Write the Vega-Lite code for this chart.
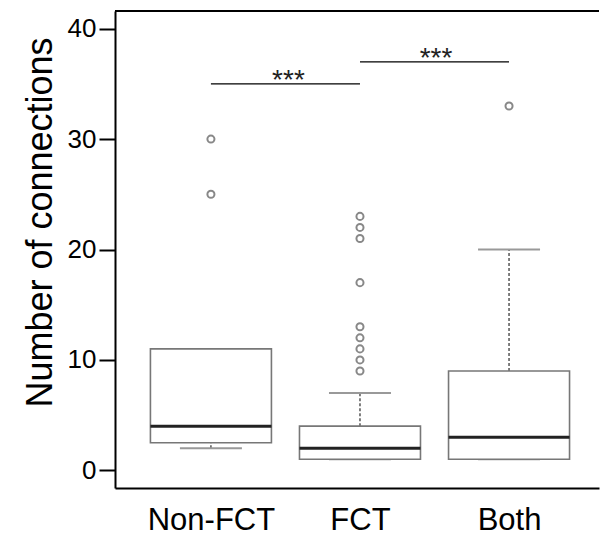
{
  "$schema": "https://vega.github.io/schema/vega-lite/v6.json",
  "autosize": "none",
  "padding": {"left": 115, "top": 11, "right": 1, "bottom": 62},
  "width": 484,
  "height": 477,
  "background": "white",
  "config": {
    "view": {"stroke": null},
    "font": "Liberation Sans",
    "axis": {"grid": false, "domainColor": "black", "domainWidth": 2, "tickColor": "black", "tickWidth": 2, "labelColor": "black", "titleColor": "black", "labelFont": "Liberation Sans", "titleFont": "Liberation Sans"}
  },
  "datasets": {
    "boxes": [
      {"group": "Non-FCT", "pos": 1, "lower": 2, "q1": 2.5, "median": 4, "q3": 11, "upper": 11},
      {"group": "FCT", "pos": 2, "lower": 1, "q1": 1, "median": 2, "q3": 4, "upper": 7},
      {"group": "Both", "pos": 3, "lower": 1, "q1": 1, "median": 3, "q3": 9, "upper": 20}
    ],
    "outliers": [
      {"group": "Non-FCT", "pos": 1, "value": 25},
      {"group": "Non-FCT", "pos": 1, "value": 30},
      {"group": "FCT", "pos": 2, "value": 9},
      {"group": "FCT", "pos": 2, "value": 10},
      {"group": "FCT", "pos": 2, "value": 11},
      {"group": "FCT", "pos": 2, "value": 12},
      {"group": "FCT", "pos": 2, "value": 13},
      {"group": "FCT", "pos": 2, "value": 17},
      {"group": "FCT", "pos": 2, "value": 21},
      {"group": "FCT", "pos": 2, "value": 22},
      {"group": "FCT", "pos": 2, "value": 23},
      {"group": "Both", "pos": 3, "value": 33}
    ],
    "sig": [
      {"from": 1, "to": 2, "y": 35, "label": "***", "mid": 1.52},
      {"from": 2, "to": 3, "y": 37, "label": "***", "mid": 2.51}
    ]
  },
  "layer": [
    {
      "data": {"name": "boxes"},
      "mark": {"type": "rule", "strokeDash": [3, 2], "color": "#555555", "strokeWidth": 1.5},
      "encoding": {
        "x": {"field": "pos", "type": "quantitative", "scale": {"domain": [0.39, 3.57], "nice": false, "zero": false},
          "axis": {"values": [1, 2, 3], "labelExpr": "datum.value == 1 ? 'Non-FCT' : datum.value == 2 ? 'FCT' : 'Both'", "ticks": false, "labelFontSize": 31, "labelPadding": 17, "title": null}},
        "y": {"field": "q3", "type": "quantitative", "scale": {"domain": [-1.6, 41.6], "nice": false, "zero": false},
          "axis": {"values": [0, 10, 20, 30, 40], "tickSize": 16, "labelFontSize": 26, "labelPadding": 3, "title": "Number of connections", "titleFontSize": 36, "titleFontWeight": "normal", "titlePadding": 8, "titleY": 211}},
        "y2": {"field": "upper"}
      }
    },
    {
      "data": {"name": "boxes"},
      "mark": {"type": "rule", "strokeDash": [3, 2], "color": "#555555", "strokeWidth": 1.5},
      "encoding": {
        "x": {"field": "pos", "type": "quantitative"},
        "y": {"field": "lower", "type": "quantitative"},
        "y2": {"field": "q1"}
      }
    },
    {
      "data": {"name": "boxes"},
      "mark": {"type": "tick", "orient": "horizontal", "size": 62, "thickness": 2, "color": "#999999", "opacity": 1},
      "encoding": {
        "x": {"field": "pos", "type": "quantitative"},
        "y": {"field": "upper", "type": "quantitative"}
      }
    },
    {
      "data": {"name": "boxes"},
      "mark": {"type": "tick", "orient": "horizontal", "size": 62, "thickness": 2, "color": "#999999", "opacity": 1},
      "encoding": {
        "x": {"field": "pos", "type": "quantitative"},
        "y": {"field": "lower", "type": "quantitative"}
      }
    },
    {
      "data": {"name": "boxes"},
      "mark": {"type": "bar", "size": 121, "fill": "white", "stroke": "#777777", "strokeWidth": 1.6},
      "encoding": {
        "x": {"field": "pos", "type": "quantitative"},
        "y": {"field": "q1", "type": "quantitative"},
        "y2": {"field": "q3"}
      }
    },
    {
      "data": {"name": "boxes"},
      "mark": {"type": "tick", "orient": "horizontal", "size": 121, "thickness": 3, "color": "#222222", "opacity": 1},
      "encoding": {
        "x": {"field": "pos", "type": "quantitative"},
        "y": {"field": "median", "type": "quantitative"}
      }
    },
    {
      "data": {"name": "outliers"},
      "mark": {"type": "point", "shape": "circle", "filled": false, "size": 50, "stroke": "#888888", "strokeWidth": 2, "opacity": 1},
      "encoding": {
        "x": {"field": "pos", "type": "quantitative"},
        "y": {"field": "value", "type": "quantitative"}
      }
    },
    {
      "data": {"name": "sig"},
      "mark": {"type": "rule", "color": "black", "strokeWidth": 1.2},
      "encoding": {
        "x": {"field": "from", "type": "quantitative"},
        "x2": {"field": "to"},
        "y": {"field": "y", "type": "quantitative"}
      }
    },
    {
      "data": {"name": "sig"},
      "mark": {"type": "text", "fontSize": 28, "color": "#222222", "baseline": "alphabetic", "dy": 5},
      "encoding": {
        "x": {"field": "mid", "type": "quantitative"},
        "y": {"field": "y", "type": "quantitative"},
        "text": {"field": "label"}
      }
    },
    {
      "data": {"values": [{"top": 41.6}]},
      "mark": {"type": "rule", "color": "black", "strokeWidth": 2},
      "encoding": {
        "y": {"field": "top", "type": "quantitative"}
      }
    }
  ]
}
